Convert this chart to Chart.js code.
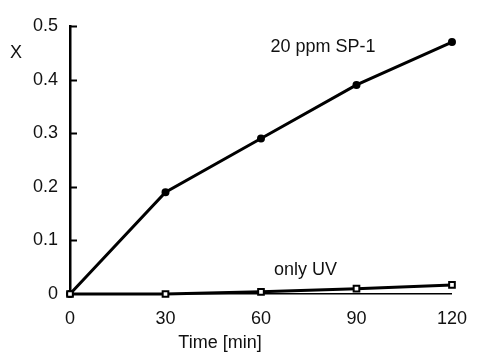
<!DOCTYPE html>
<html>
<head>
<meta charset="utf-8">
<script src="https://cdn.jsdelivr.net/npm/chart.js@4/dist/chart.umd.min.js"></script>
<style>
  html, body { margin: 0; padding: 0; background: #fff; }
  #wrap { width: 481px; height: 352px; }
</style>
</head>
<body>
<div id="wrap"><canvas id="chart"></canvas></div>
<script>
// Dados
const times = [0, 30, 60, 90, 120];
const sp1Values = [0, 0.19, 0.29, 0.39, 0.47];
const uvValues = [0, 0, 0.004, 0.01, 0.017];
const xTicks = [0, 30, 60, 90, 120];
const yTicks = [0, 0.1, 0.2, 0.3, 0.4, 0.5];

const FONT = "'Liberation Sans', Arial, sans-serif";

function toPoints(values) {
    return times.map((t, i) => ({ x: t, y: values[i] }));
}

// Textos e marcas internas do eixo Y
const extrasPlugin = {
    id: 'extras',
    afterDraw(chart) {
        const ctx = chart.ctx;
        const xs = chart.scales.x;
        const ys = chart.scales.y;
        const area = chart.chartArea;

        ctx.save();
        ctx.strokeStyle = '#000';
        ctx.lineWidth = 2;
        yTicks.forEach(v => {
            if (v === 0) return;
            const py = Math.round(ys.getPixelForValue(v)) + 0.5;
            ctx.beginPath();
            ctx.moveTo(area.left, py);
            ctx.lineTo(area.left + 7, py);
            ctx.stroke();
        });

        ctx.fillStyle = '#111';
        ctx.font = '18px ' + FONT;
        ctx.textAlign = 'center';
        ctx.textBaseline = 'middle';
        ctx.fillText('X', 16, 53);
        ctx.fillText('Time [min]', area.left + 150, 343);
        ctx.fillText('20 ppm SP-1', xs.getPixelForValue(79.5), ys.getPixelForValue(0.46));
        ctx.fillText('only UV', xs.getPixelForValue(74), ys.getPixelForValue(0.045));
        ctx.restore();
    }
};

new Chart(document.getElementById('chart'), {
    type: 'line',
    data: {
        datasets: [
            {
                label: 'only UV',
                data: toPoints(uvValues),
                borderColor: '#000',
                borderWidth: 3,
                pointStyle: 'rect',
                pointRadius: 4,
                pointBorderWidth: 2,
                pointBackgroundColor: '#fff',
                pointBorderColor: '#000',
                clip: false,
                tension: 0
            },
            {
                label: '20 ppm SP-1',
                data: toPoints(sp1Values),
                borderColor: '#000',
                borderWidth: 3,
                pointStyle: 'circle',
                pointRadius: 2.5,
                pointBackgroundColor: '#000',
                pointBorderColor: '#000',
                clip: false,
                tension: 0
            }
        ]
    },
    options: {
        responsive: true,
        maintainAspectRatio: false,
        animation: false,
        layout: {
            padding: { top: 26, right: 29, left: 0, bottom: 0 }
        },
        plugins: {
            legend: { display: false },
            tooltip: { enabled: false }
        },
        scales: {
            x: {
                type: 'linear',
                min: 0,
                max: 120,
                afterBuildTicks: scale => {
                    scale.ticks = xTicks.map(v => ({ value: v }));
                },
                afterFit: scale => { scale.height = 58; },
                grid: { display: false, drawTicks: false },
                border: { display: true, color: '#000', width: 1.5 },
                ticks: {
                    color: '#111',
                    padding: 14,
                    maxRotation: 0,
                    font: { family: FONT, size: 18 }
                }
            },
            y: {
                type: 'linear',
                min: 0,
                max: 0.5,
                afterBuildTicks: scale => {
                    scale.ticks = yTicks.map(v => ({ value: v }));
                },
                afterFit: scale => { scale.width = 70; },
                grid: { display: false, drawTicks: false },
                border: { display: true, color: '#000', width: 2.5 },
                ticks: {
                    color: '#111',
                    padding: 12,
                    font: { family: FONT, size: 18 }
                }
            }
        }
    },
    plugins: [extrasPlugin]
});
</script>
</body>
</html>
